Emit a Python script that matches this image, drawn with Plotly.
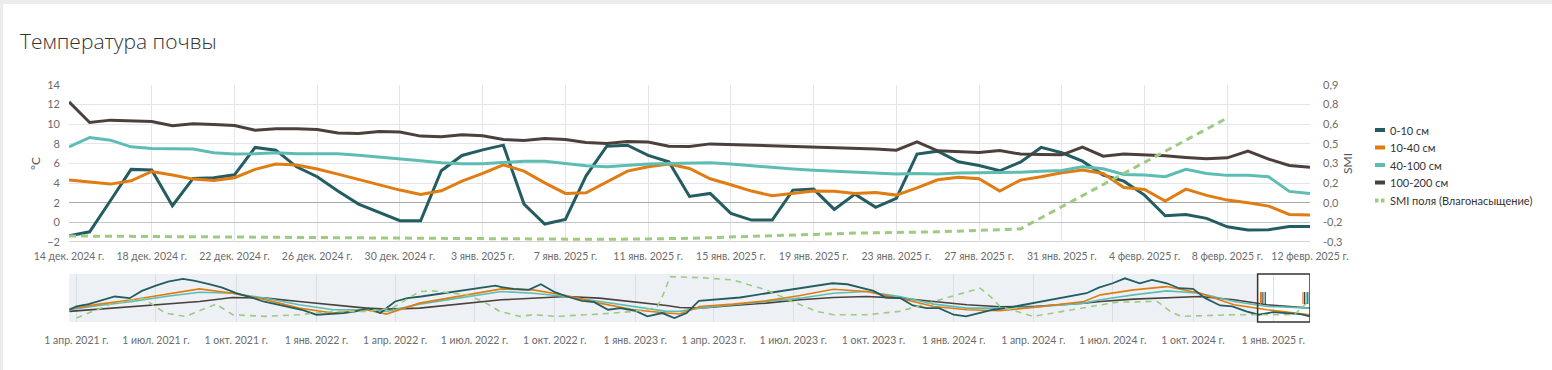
import pandas as pd
import plotly.graph_objects as go

W, H = 1552, 370

# ---------------- main chart data (daily) ----------------
start_date = "2024-12-14"
n_days = 61
dates = pd.date_range(start_date, periods=n_days, freq="D")

t_0_10 = [-1.36, -0.96, 2.2, 5.4, 5.33, 1.7, 4.48, 4.55, 4.85, 7.64,
          7.36, 5.66, 4.65, 3.19, 1.86, 0.98, 0.17, 0.17, 5.26, 6.82,
          7.39, 7.87, 1.86, -0.17, 0.3, 4.75, 7.77, 7.87, 6.82, 6.17,
          2.64, 2.95, 0.91, 0.23, 0.23, 3.29, 3.39, 1.32, 2.88, 1.53,
          2.44, 6.96, 7.26, 6.17, 5.8, 5.26, 6.14, 7.64, 7.09, 6.24,
          4.82, 4.2, 2.78, 0.67, 0.81, 0.41, -0.45, -0.78, -0.75, -0.41, -0.41]
t_10_40 = [4.31, 4.14, 3.9, 4.24, 5.19, 4.82, 4.41, 4.28, 4.55, 5.4,
           5.94, 5.84, 5.43, 4.92, 4.37, 3.83, 3.29, 2.85, 3.22, 4.2,
           4.99, 5.87, 5.22, 4.03, 2.95, 3.02, 4.13, 5.22, 5.66, 5.94,
           5.5, 4.44, 3.83, 3.19, 2.71, 2.95, 3.19, 3.16, 2.95, 3.05,
           2.78, 3.52, 4.34, 4.61, 4.44, 3.19, 4.31, 4.65, 5.05, 5.33,
           4.99, 3.56, 3.36, 2.17, 3.39, 2.75, 2.27, 2.0, 1.66, 0.81, 0.74]
t_40_100 = [7.7, 8.65, 8.38, 7.7, 7.53, 7.5, 7.47, 7.09, 6.96, 6.99,
            7.09, 6.99, 6.99, 6.99, 6.85, 6.68, 6.48, 6.27, 6.07, 5.97,
            5.97, 6.14, 6.24, 6.24, 6.0, 5.76, 5.66, 5.8, 5.94, 6.0,
            6.07, 6.07, 5.94, 5.76, 5.6, 5.43, 5.3, 5.22, 5.09, 5.02,
            4.92, 4.99, 4.92, 5.02, 5.05, 5.05, 5.12, 5.22, 5.29, 5.66,
            5.46, 4.89, 4.82, 4.65, 5.4, 4.99, 4.79, 4.79, 4.65, 3.16, 2.95]
t_100_200 = [12.28, 10.18, 10.42, 10.35, 10.28, 9.84, 10.04, 9.97, 9.88, 9.4,
             9.53, 9.53, 9.47, 9.12, 9.06, 9.27, 9.2, 8.79, 8.72, 8.92,
             8.82, 8.45, 8.35, 8.55, 8.45, 8.15, 8.04, 8.25, 8.18, 7.77,
             7.74, 8.0, 7.94, 7.9, 7.84, 7.77, 7.7, 7.64, 7.53, 7.47,
             7.36, 8.21, 7.29, 7.23, 7.13, 7.33, 6.96, 6.92, 6.88, 7.67,
             6.75, 6.96, 6.88, 6.78, 6.62, 6.48, 6.58, 7.26, 6.45, 5.8, 5.63]

smi_dates = ["2024-12-14", "2024-12-24", "2025-01-03", "2025-01-09", "2025-01-13",
             "2025-01-17", "2025-01-21", "2025-01-25", "2025-01-29", "2025-02-08"]
smi_values = [-0.254, -0.265, -0.277, -0.28, -0.272, -0.252, -0.232, -0.222, -0.2, 0.648]

series_names = ["0-10 см", "10-40 см", "40-100 см", "100-200 см", "SMI поля (Влагонасыщение)"]
series_colors = ["#235d61", "#e07c12", "#5dbdb5", "#4b403b", "#9dcb80"]

# axis ticks
main_tick_dates = ["2024-12-14", "2024-12-18", "2024-12-22", "2024-12-26", "2024-12-30",
                   "2025-01-03", "2025-01-07", "2025-01-11", "2025-01-15", "2025-01-19",
                   "2025-01-23", "2025-01-27", "2025-01-31", "2025-02-04", "2025-02-08",
                   "2025-02-12"]
temp_ticks = [-2, 0, 2, 4, 6, 8, 10, 12, 14]
smi_ticks = [-0.3, -0.15, 0.0, 0.15, 0.3, 0.45, 0.6, 0.75, 0.9]
smi_tick_text = ["-0,3", "-0,2", "0,0", "0,2", "0,3", "0,5", "0,6", "0,8", "0,9"]

nav_tick_dates = ["2021-04-01", "2021-07-01", "2021-10-01", "2022-01-01",
                  "2022-04-01", "2022-07-01", "2022-10-01", "2023-01-01",
                  "2023-04-01", "2023-07-01", "2023-10-01", "2024-01-01",
                  "2024-04-01", "2024-07-01", "2024-10-01", "2025-01-01"]

ru_months = {1: "янв.", 2: "февр.", 3: "мар.", 4: "апр.", 5: "мая", 6: "июн.",
             7: "июл.", 8: "авг.", 9: "сент.", 10: "окт.", 11: "нояб.", 12: "дек."}


def ru_label(s):
    d = pd.Timestamp(s)
    return f"{d.day} {ru_months[d.month]} {d.year} г."


# ---------------- navigator (overview) data ----------------
nav_0_10_dates = ["2021-03-24", "2021-04-01", "2021-04-15", "2021-05-01", "2021-05-15",
                  "2021-06-01", "2021-06-15", "2021-07-01", "2021-07-15", "2021-08-01",
                  "2021-08-15", "2021-09-01", "2021-09-15", "2021-10-01", "2021-10-15",
                  "2021-11-01", "2021-11-15", "2021-12-01", "2021-12-15", "2022-01-01",
                  "2022-01-15", "2022-02-01", "2022-02-15", "2022-03-01", "2022-03-15",
                  "2022-04-01", "2022-04-15", "2022-05-01", "2022-07-25", "2022-08-01",
                  "2022-08-15", "2022-09-01", "2022-09-15", "2022-10-01", "2022-10-15",
                  "2022-11-01", "2022-11-15", "2022-12-01", "2022-12-15", "2023-01-01",
                  "2023-01-15", "2023-02-01", "2023-02-15", "2023-03-01", "2023-03-15",
                  "2023-04-01", "2023-04-15", "2023-05-01", "2023-05-15", "2023-06-01",
                  "2023-06-15", "2023-07-01", "2023-07-15", "2023-08-01", "2023-08-15",
                  "2023-09-01", "2023-09-15", "2023-10-01", "2023-10-15", "2023-11-01",
                  "2023-11-15", "2023-12-01", "2023-12-15", "2024-01-01", "2024-01-15",
                  "2024-02-01", "2024-02-15", "2024-03-01", "2024-06-01", "2024-06-15",
                  "2024-07-01", "2024-07-15", "2024-08-01", "2024-08-15", "2024-09-01",
                  "2024-09-15", "2024-10-01", "2024-10-15", "2024-11-01", "2024-11-15",
                  "2024-12-01", "2024-12-15", "2025-01-01", "2025-01-15", "2025-02-01",
                  "2025-02-12"]
nav_0_10 = [3.0, 5.0, 6.4, 9.0, 11.0, 10.0, 14.4, 17.6, 20.0, 21.6,
            20.4, 18.4, 16.4, 13.0, 11.0, 8.0, 6.4, 4.4, 3.0, 0.0,
            0.4, 1.0, 2.0, 4.0, 1.0, 8.0, 10.0, 11.0, 17.6, 16.6,
            15.6, 15.0, 18.4, 13.6, 11.0, 8.4, 7.6, 3.0, 4.0, 2.4,
            -1.0, 1.0, -2.0, 1.0, 8.4, 9.0, 9.6, 10.4, 11.6, 13.0,
            14.4, 15.6, 16.8, 18.0, 19.0, 18.4, 16.4, 14.4, 10.4, 10.0,
            5.6, 4.0, 4.0, 0.0, -1.0, 1.0, 3.0, 4.0, 13.0, 16.4,
            19.0, 22.0, 19.0, 21.0, 19.0, 16.0, 15.6, 10.0, 5.6, 5.0,
            2.0, 0.0, 1.6, 1.0, 0.4, -1.0]

nav_dates = ["2021-03-24", "2021-04-27", "2021-06-04", "2021-07-12", "2021-08-20",
             "2021-09-27", "2021-11-04", "2021-12-12", "2022-01-20", "2022-02-27",
             "2022-03-22", "2022-04-29", "2022-08-01", "2022-09-06", "2022-10-14",
             "2022-11-21", "2022-12-30", "2023-02-06", "2023-02-21", "2023-03-16",
             "2023-04-23", "2023-05-31", "2023-07-09", "2023-08-16", "2023-09-23",
             "2023-10-31", "2023-12-09", "2024-01-16", "2024-02-23", "2024-04-01",
             "2024-05-29", "2024-06-17", "2024-07-25", "2024-09-01", "2024-10-09",
             "2024-11-17", "2024-12-25", "2025-02-12"]
nav_10_40 = [3.6, 6.4, 9.0, 12.4, 15.6, 13.0, 9.0, 4.0, 1.0, 3.0,
             0.4, 7.0, 15.6, 15.0, 11.6, 7.0, 3.0, 1.0, 0.4, 5.0,
             6.4, 8.4, 11.6, 15.4, 14.0, 10.0, 5.0, 3.0, 2.4, 4.4,
             8.0, 12.0, 15.0, 17.0, 13.0, 6.0, 3.0, 0.0]
nav_40_100 = [3.0, 5.6, 8.0, 11.0, 13.6, 13.0, 10.0, 6.0, 3.0, 3.0,
              2.0, 6.4, 14.0, 13.0, 11.0, 8.0, 5.0, 2.0, 2.0, 4.0,
              6.0, 8.0, 10.0, 13.0, 14.0, 11.0, 6.4, 4.0, 4.0, 4.6,
              7.0, 9.0, 12.0, 14.4, 13.0, 8.0, 5.0, 4.0]
nav_100_200 = [2.0, 3.4, 5.0, 6.4, 8.0, 10.4, 10.0, 8.0, 6.0, 4.0,
               3.4, 4.0, 9.0, 10.0, 11.0, 10.0, 8.0, 5.6, 4.4, 4.0,
               5.6, 7.0, 9.0, 10.4, 11.0, 10.0, 8.0, 6.0, 4.8, 5.0,
               7.0, 8.0, 9.4, 10.4, 11.0, 9.0, 6.0, 4.0]

nav_smi_dates = ["2021-04-01", "2021-05-08", "2021-06-16", "2021-07-12", "2021-08-04",
                 "2021-08-27", "2021-09-08", "2021-09-27", "2021-11-04", "2021-12-12",
                 "2022-01-20", "2022-02-27", "2022-03-29", "2022-04-29", "2022-05-14",
                 "2022-06-22", "2022-07-11", "2022-07-30", "2022-08-22", "2022-09-06",
                 "2022-10-03", "2022-11-21", "2022-12-30", "2023-01-26", "2023-02-02",
                 "2023-02-10", "2023-03-16", "2023-04-23", "2023-05-31", "2023-06-30",
                 "2023-07-28", "2023-08-16", "2023-09-23", "2023-10-31", "2023-12-09",
                 "2024-01-16", "2024-01-31", "2024-02-12", "2024-02-23", "2024-04-01",
                 "2024-05-29", "2024-07-06", "2024-08-21", "2024-09-05", "2024-09-17",
                 "2024-11-17", "2024-12-25", "2025-01-25", "2025-02-08"]
nav_smi = [-0.10, 0.30, 0.50, 0.05, -0.05, 0.20, 0.32, 0.00, -0.05, 0.00,
           0.10, 0.10, 0.20, 0.70, 0.72, 0.60, 0.40, 0.10, -0.05, 0.00,
           -0.05, 0.02, 0.10, 0.22, 0.60, 1.15, 1.12, 1.05, 0.75, 0.40,
           0.10, 0.00, 0.00, 0.10, 0.40, 0.70, 0.80, 0.55, 0.25, -0.05,
           0.22, 0.38, 0.40, 0.10, -0.05, 0.00, 0.00, 0.00, 0.35]

# ---------------- layout geometry (pixels) ----------------
PX_L, PX_R = 69, 1310
MAIN_T, MAIN_B = 85, 242
NAV_T, NAV_B = 274, 322


def fx(px):
    return px / W


def fy(py):
    return 1 - py / H


FONT = "Lato"
TICK_COLOR = "#6b6b6b"
GRID = "#e2e6ec"

fig = go.Figure()

main_series = [t_0_10, t_10_40, t_40_100, t_100_200]
nav_series = [nav_0_10, nav_10_40, nav_40_100, nav_100_200]
nav_x = [nav_0_10_dates, nav_dates, nav_dates, nav_dates]

for name, vals, col in zip(series_names[:4], main_series, series_colors[:4]):
    fig.add_trace(go.Scatter(x=dates, y=vals, name=name, mode="lines",
                             line=dict(color=col, width=3),
                             xaxis="x", yaxis="y", showlegend=False))
fig.add_trace(go.Scatter(x=smi_dates, y=smi_values, name=series_names[4], mode="lines",
                         line=dict(color=series_colors[4], width=3, dash="7px,5px"),
                         xaxis="x", yaxis="y2", showlegend=False))

# navigator traces
fig.add_trace(go.Scatter(x=nav_smi_dates, y=nav_smi, mode="lines",
                         line=dict(color=series_colors[4], width=1.6, dash="6px,5px"),
                         xaxis="x2", yaxis="y4", showlegend=False, hoverinfo="skip"))
for i in [3, 2, 1, 0]:
    fig.add_trace(go.Scatter(x=nav_x[i], y=nav_series[i], mode="lines",
                             line=dict(color=series_colors[i], width=1.8 if i == 0 else 1.6),
                             xaxis="x2", yaxis="y3", showlegend=False, hoverinfo="skip"))

shapes = []
# page frame
shapes.append(dict(type="rect", xref="paper", yref="paper", x0=0, x1=1, y0=fy(4), y1=1,
                   fillcolor="#ececec", line=dict(width=0), layer="below"))
shapes.append(dict(type="rect", xref="paper", yref="paper", x0=0, x1=fx(3), y0=0, y1=1,
                   fillcolor="#ececec", line=dict(width=0), layer="below"))
# navigator background
shapes.append(dict(type="rect", xref="x2 domain", yref="y3 domain", x0=0, x1=1, y0=0, y1=1,
                   fillcolor="#edf1f6", line=dict(width=0), layer="below"))
shapes.append(dict(type="rect", xref="x2", yref="y3 domain", x0=dates[0], x1=dates[-1],
                   y0=0, y1=1, fillcolor="white", line=dict(width=0), layer="below"))
shapes.append(dict(type="rect", xref="x2", yref="y3 domain", x0=dates[0], x1=dates[-1],
                   y0=0, y1=1, fillcolor="rgba(0,0,0,0)", line=dict(width=1.5, color="#333"),
                   layer="above"))
# selection handles (small coloured grips)
handle_colors = [series_colors[1], series_colors[3], series_colors[2], series_colors[0]]
for base in (1260.5, 1303.0):
    for j, c in enumerate(handle_colors):
        xp = base + j * 1.6
        shapes.append(dict(type="line", xref="paper", yref="paper", x0=fx(xp), x1=fx(xp),
                           y0=fy(304), y1=fy(292), line=dict(color=c, width=1.2)))

# manual legend
annotations = []
leg_rows = [130, 147.5, 165, 182.5, 200.5]
for name, col, py, k in zip(series_names, series_colors, leg_rows, range(5)):
    if k < 4:
        shapes.append(dict(type="line", xref="paper", yref="paper", x0=fx(1375), x1=fx(1385),
                           y0=fy(py), y1=fy(py), line=dict(color=col, width=4)))
    else:
        for a, b in [(1375, 1378.5), (1381, 1384.5)]:
            shapes.append(dict(type="line", xref="paper", yref="paper", x0=fx(a), x1=fx(b),
                               y0=fy(py), y1=fy(py), line=dict(color=col, width=4)))
    annotations.append(dict(text=name, xref="paper", yref="paper", x=fx(1388), y=fy(py),
                            xanchor="left", yanchor="middle", showarrow=False,
                            font=dict(family=FONT, size=11, color="#333")))

common_axis = dict(automargin=False, tickangle=0)

fig.update_layout(
    width=W, height=H,
    margin=dict(l=0, r=0, t=0, b=0, autoexpand=False),
    paper_bgcolor="white", plot_bgcolor="white",
    font=dict(family=FONT, size=11, color=TICK_COLOR),
    title=dict(text="Температура почвы", xref="container", yref="container",
               x=fx(20), y=fy(42), xanchor="left", yanchor="middle", automargin=False,
               font=dict(family="Open Sans", size=21, color="#333", weight=300)),
    showlegend=False,
    hovermode="x",
    xaxis=dict(domain=[fx(PX_L), fx(PX_R)], anchor="y",
               range=[dates[0], dates[-1]],
               tickmode="array", tickvals=main_tick_dates,
               ticktext=[ru_label(d) for d in main_tick_dates],
               showgrid=True, gridcolor=GRID, gridwidth=1,
               showline=False, zeroline=False, ticks="",
               tickfont=dict(size=10.5, color=TICK_COLOR), ticklabelstandoff=6, **common_axis),
    yaxis=dict(domain=[fy(MAIN_B), fy(MAIN_T)], anchor="x",
               range=[-2, 14], tickmode="array", tickvals=temp_ticks,
               showgrid=True, gridcolor=GRID, gridwidth=1,
               zeroline=True, zerolinecolor="#c4c8cc", zerolinewidth=1,
               showline=False, ticks="", ticklabelstandoff=8,
               tickfont=dict(size=11, color=TICK_COLOR),
               title=dict(text="°C", standoff=4, font=dict(size=12, color="#555")),
               **common_axis),
    yaxis2=dict(overlaying="y", side="right", anchor="x",
                range=[-0.3, 0.9], tickmode="array", tickvals=smi_ticks, ticktext=smi_tick_text,
                showgrid=False, zeroline=True, zerolinecolor="#a8a8a8", zerolinewidth=1,
                showline=False, ticks="", ticklabelstandoff=12,
                tickfont=dict(size=11, color=TICK_COLOR),
                title=dict(text="SMI", standoff=2, font=dict(size=12, color="#555")),
                **common_axis),
    xaxis2=dict(domain=[fx(PX_L), fx(PX_R)], anchor="y3",
                range=["2021-03-23 12:00", "2025-02-12"],
                tickmode="array", tickvals=nav_tick_dates,
                ticktext=[ru_label(d) for d in nav_tick_dates],
                showgrid=True, gridcolor="#d9dfe7", gridwidth=1,
                showline=False, zeroline=False, ticks="",
                tickfont=dict(size=10.5, color=TICK_COLOR), ticklabelstandoff=10, **common_axis),
    yaxis3=dict(domain=[fy(NAV_B), fy(NAV_T)], anchor="x2", range=[-4.4, 24.6],
                visible=False, showgrid=False, zeroline=False, automargin=False),
    yaxis4=dict(overlaying="y3", anchor="x2", range=[-0.22, 1.23],
                visible=False, showgrid=False, zeroline=False, automargin=False),
    shapes=shapes,
    annotations=annotations,
)

# bottom axis line of the main plot (-2 gridline drawn darker)
fig.add_shape(type="line", xref="x domain", yref="y", x0=0, x1=1, y0=-2, y1=-2,
              line=dict(color="#a9a9a9", width=1), layer="below")

fig.write_html("out.html", config={"displayModeBar": False},
               post_script="document.body.style.margin='0';document.body.style.overflow='hidden';")
